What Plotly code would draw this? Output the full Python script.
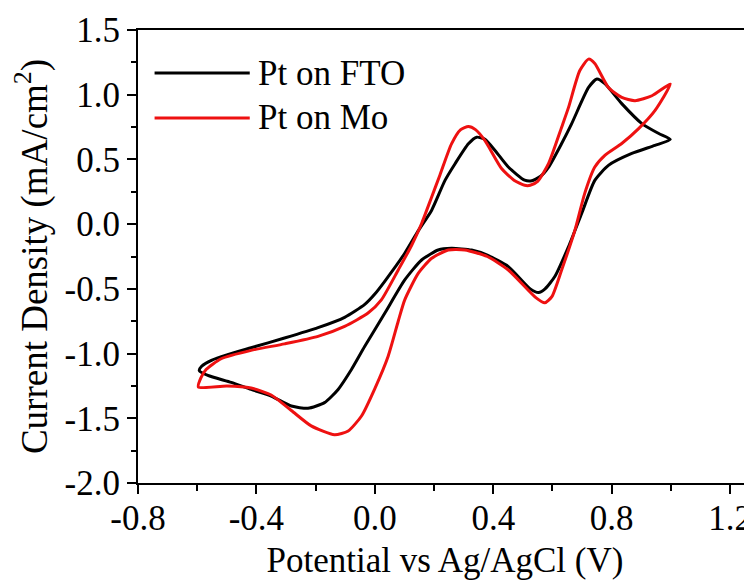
import plotly.graph_objects as go

# Pt on FTO: forward (upper) branch then reverse (lower) branch
fto_x = [-0.593, -0.585, -0.55, -0.50, -0.418, -0.305, -0.192, -0.102, -0.034, 0.0,
         0.034, 0.101, 0.147, 0.192, 0.237, 0.271, 0.316, 0.344, 0.372, 0.406, 0.451,
         0.506, 0.53, 0.56, 0.587, 0.631, 0.665, 0.722, 0.750, 0.777, 0.834, 0.902,
         0.959, 0.998,
         0.946, 0.868, 0.789, 0.743, 0.699, 0.654, 0.608, 0.575, 0.553, 0.525, 0.451,
         0.38, 0.327, 0.259, 0.214, 0.158, 0.101, 0.034, -0.034, -0.079, -0.124, -0.170,
         -0.226, -0.282, -0.35, -0.418, -0.485, -0.564, -0.593]
fto_y = [-1.131, -1.098, -1.05, -1.01, -0.955, -0.88, -0.80, -0.72, -0.62, -0.54,
         -0.44, -0.225, -0.05, 0.108, 0.338, 0.467, 0.621, 0.672, 0.655, 0.569, 0.441,
         0.34, 0.335, 0.37, 0.441, 0.623, 0.777, 1.056, 1.121, 1.085, 0.931, 0.777,
         0.70, 0.654,
         0.608, 0.546, 0.454, 0.338, 0.085, -0.175, -0.405, -0.50, -0.528, -0.50, -0.328,
         -0.24, -0.2, -0.187, -0.2, -0.277, -0.431, -0.687, -0.944, -1.123, -1.277, -1.379,
         -1.423, -1.405, -1.328, -1.277, -1.223, -1.169, -1.131]

# Pt on Mo
mo_x = [-0.596, -0.588, -0.57, -0.519, -0.418, -0.305, -0.192, -0.102, -0.023, 0.022,
        0.079, 0.124, 0.158, 0.192, 0.22, 0.259, 0.29, 0.316, 0.34, 0.372, 0.428,
        0.47, 0.506, 0.525, 0.55, 0.587, 0.631, 0.654, 0.692, 0.722, 0.743, 0.789,
        0.834, 0.879, 0.936, 0.998,
        0.946, 0.891, 0.834, 0.777, 0.743, 0.709, 0.676, 0.631, 0.598, 0.574, 0.545,
        0.451, 0.38, 0.304, 0.248, 0.192, 0.147, 0.101, 0.079, 0.045, 0.0, -0.045,
        -0.090, -0.136, -0.215, -0.282, -0.35, -0.418, -0.5, -0.596]
mo_y = [-1.259, -1.19, -1.123, -1.04, -0.975, -0.925, -0.867, -0.79, -0.687, -0.585,
        -0.354, -0.165, 0.005, 0.21, 0.38, 0.62, 0.73, 0.754, 0.73, 0.645, 0.43,
        0.34, 0.30, 0.30, 0.33, 0.469, 0.749, 0.90, 1.185, 1.275, 1.241, 1.056,
        0.979, 0.954, 0.992, 1.082,
        0.877, 0.738, 0.623, 0.531, 0.441, 0.238, -0.046, -0.354, -0.56, -0.608, -0.57,
        -0.354, -0.25, -0.2, -0.2, -0.264, -0.379, -0.585, -0.75, -1.02, -1.27, -1.482,
        -1.598, -1.628, -1.559, -1.44, -1.32, -1.266, -1.25, -1.259]

series_names = ["Pt on FTO", "Pt on Mo"]
series_colors = ["#000000", "#ee1111"]

x_tick_vals = [-0.8, -0.4, 0.0, 0.4, 0.8, 1.2]
x_tick_text = ["-0.8", "-0.4", "0.0", "0.4", "0.8", "1.2"]
y_tick_vals = [1.5, 1.0, 0.5, 0.0, -0.5, -1.0, -1.5, -2.0]
y_tick_text = ["1.5", "1.0", "0.5", "0.0", "-0.5", "-1.0", "-1.5", "-2.0"]

FONT = "Liberation Serif, Times New Roman, serif"

fig = go.Figure()
for xs, ys, name, col in [(fto_x, fto_y, series_names[0], series_colors[0]),
                          (mo_x, mo_y, series_names[1], series_colors[1])]:
    fig.add_trace(go.Scatter(x=xs, y=ys, mode="lines", name=name,
                             line=dict(color=col, width=3, shape="spline", smoothing=0.6),
                             showlegend=False))

# manual legend (long line samples)
leg_rows = [(0.905, series_names[0], series_colors[0]), (0.806, series_names[1], series_colors[1])]
for yy, name, col in leg_rows:
    fig.add_shape(type="line", xref="paper", yref="paper", x0=0.027, x1=0.182, y0=yy, y1=yy,
                  line=dict(color=col, width=3))
    fig.add_annotation(xref="paper", yref="paper", x=0.192, y=yy, text=name, showarrow=False,
                       xanchor="left", yanchor="middle", font=dict(family=FONT, size=35, color="#000"))

# page body has an 8px margin, so the figure is sized to end at the window edge
fig.update_layout(
    width=744, height=573,
    margin=dict(l=130, r=0, t=22, b=98),
    paper_bgcolor="white", plot_bgcolor="white",
    font=dict(family=FONT, color="#000"),
)
fig.update_xaxes(
    range=[-0.8, 1.274], showgrid=False, zeroline=False, automargin=False,
    showline=True, linecolor="#000", linewidth=2, mirror=True,
    ticks="outside", ticklen=9, tickwidth=2, tickcolor="#000",
    tickvals=x_tick_vals, ticktext=x_tick_text, ticklabelstandoff=-6,
    minor=dict(dtick=0.2, tick0=-0.8, ticks="outside", ticklen=6, tickwidth=2, tickcolor="#000"),
    tickfont=dict(family=FONT, size=35, color="#000"),
    title=dict(text="Potential vs Ag/AgCl (V)", font=dict(family=FONT, size=35, color="#000"), standoff=10),
)
fig.update_yaxes(
    range=[-2.0, 1.5], showgrid=False, zeroline=False, automargin=False,
    showline=True, linecolor="#000", linewidth=2, mirror=False,
    ticks="outside", ticklen=9, tickwidth=2, tickcolor="#000",
    tickvals=y_tick_vals, ticktext=y_tick_text,
    minor=dict(dtick=0.25, tick0=-2.0, ticks="outside", ticklen=5, tickwidth=2, tickcolor="#000"),
    tickfont=dict(family=FONT, size=35, color="#000"),
    title=dict(text="Current Density (mA/cm<sup>2</sup>)", font=dict(family=FONT, size=37, color="#000"), standoff=8),
)

fig.write_html("out.html")
